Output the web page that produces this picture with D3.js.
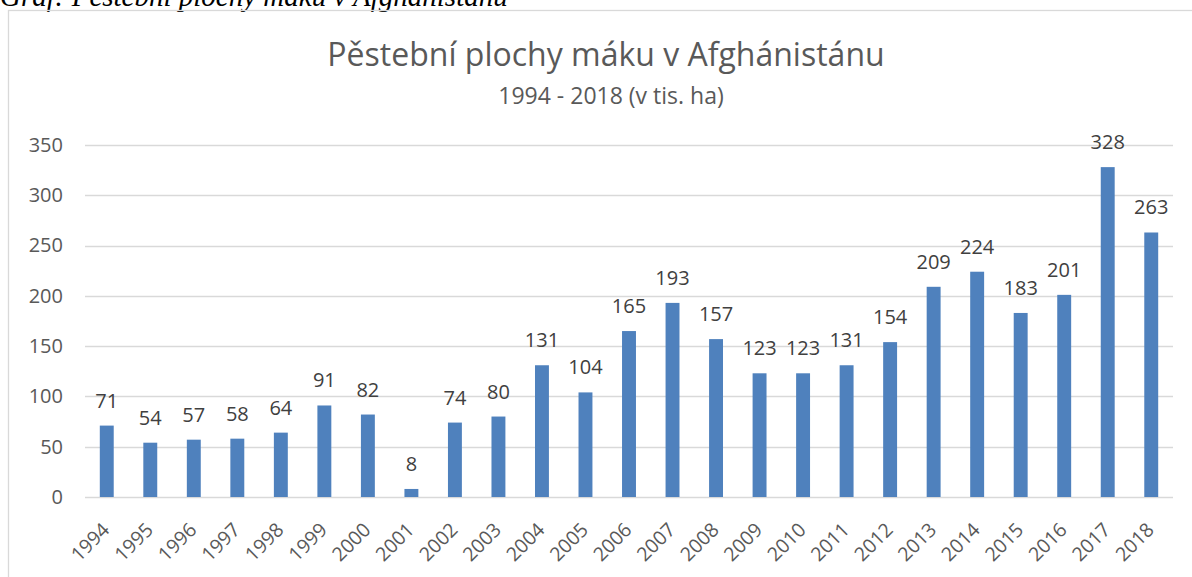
<!DOCTYPE html>
<html lang="cs">
<head>
<meta charset="UTF-8" />
<title>Pěstební plochy máku</title>
<style>
  body { margin: 0; background: #fff; }
  svg text { font-family: "Open Sans", sans-serif; fill: #595959; }
  .grid line { stroke: #d9d9d9; stroke-width: 1.3; }
  .bar { fill: #4f81bd; }
  .val { fill: #404040; }
</style>
</head>
<body>
<script src="https://cdn.jsdelivr.net/npm/d3@7"></script>
<script>
  // data (thousand ha)
  var years = ["1994","1995","1996","1997","1998","1999","2000","2001","2002","2003",
               "2004","2005","2006","2007","2008","2009","2010","2011","2012","2013",
               "2014","2015","2016","2017","2018"];
  var areas = [71, 54, 57, 58, 64, 91, 82, 8, 74, 80,
               131, 104, 165, 193, 157, 123, 123, 131, 154, 209,
               224, 183, 201, 328, 263];
  var yTicks = [0, 50, 100, 150, 200, 250, 300, 350];

  var w = 1192, h = 577;
  var margin = { top: 145, right: 19, bottom: 80, left: 85 };

  var svg = d3.select("body").append("svg")
    .attr("width", w)
    .attr("height", h);

  // caption above the chart box (cut off at the top, as in the source)
  svg.append("text")
    .attr("x", 0)
    .attr("y", 6)
    .style("font-family", "'Liberation Serif', serif")
    .style("font-style", "italic")
    .style("font-size", "29px")
    .style("fill", "#000")
    .text("Graf: Pěstební plochy máku v Afghánistánu");

  // chart border
  svg.append("rect")
    .attr("x", 8.5)
    .attr("y", 10.5)
    .attr("width", 1200)
    .attr("height", 600)
    .attr("fill", "none")
    .attr("stroke", "#d9d9d9")
    .attr("stroke-width", 1.3);

  svg.append("text")
    .attr("x", 606)
    .attr("y", 66)
    .attr("text-anchor", "middle")
    .style("font-size", "32px")
    .text("Pěstební plochy máku v Afghánistánu");

  svg.append("text")
    .attr("x", 611)
    .attr("y", 104)
    .attr("text-anchor", "middle")
    .style("font-size", "23px")
    .text("1994 - 2018 (v tis. ha)");

  var plotW = w - margin.left - margin.right,
      plotH = 497 - margin.top;

  var xScale = d3.scaleBand()
    .domain(years)
    .range([0, plotW])
    .paddingInner(0.68)
    .paddingOuter(0.34);

  var yScale = d3.scaleLinear()
    .domain([0, 350])
    .range([plotH, 0]);

  var g = svg.append("g")
    .attr("transform", "translate(" + margin.left + "," + margin.top + ")");

  // gridlines
  g.append("g")
    .attr("class", "grid")
    .selectAll("line")
    .data(yTicks)
    .join("line")
    .attr("x1", 0)
    .attr("x2", plotW)
    .attr("y1", function(d) { return Math.round(yScale(d)) + 0.5; })
    .attr("y2", function(d) { return Math.round(yScale(d)) + 0.5; });

  var yAxis = d3.axisLeft(yScale)
    .tickValues(yTicks)
    .tickSize(0)
    .tickPadding(22);

  g.append("g")
    .call(yAxis)
    .call(function(s) { s.select(".domain").remove(); })
    .selectAll("text")
    .style("font-size", "20px")
    .style("font-family", "'Open Sans', sans-serif");

  g.selectAll(".bar")
    .data(areas)
    .join("rect")
    .attr("class", "bar")
    .attr("x", function(d, i) { return xScale(years[i]); })
    .attr("width", xScale.bandwidth())
    .attr("y", function(d) { return yScale(d); })
    .attr("height", function(d) { return plotH - yScale(d); });

  // value labels
  g.selectAll(".val")
    .data(areas)
    .join("text")
    .attr("class", "val")
    .attr("x", function(d, i) { return xScale(years[i]) + xScale.bandwidth() / 2; })
    .attr("y", function(d) { return yScale(d) - 18; })
    .attr("text-anchor", "middle")
    .style("font-size", "20px")
    .text(function(d) { return d; });

  var xAxis = d3.axisBottom(xScale)
    .tickSize(0)
    .tickPadding(0);

  g.append("g")
    .attr("transform", "translate(0," + plotH + ")")
    .call(xAxis)
    .call(function(s) { s.select(".domain").remove(); })
    .selectAll("text")
    .style("font-size", "19.5px")
    .style("font-family", "'Open Sans', sans-serif")
    .attr("text-anchor", "end")
    .attr("dy", "0")
    .attr("transform", "translate(4,34) rotate(-45)");
</script>
</body>
</html>
